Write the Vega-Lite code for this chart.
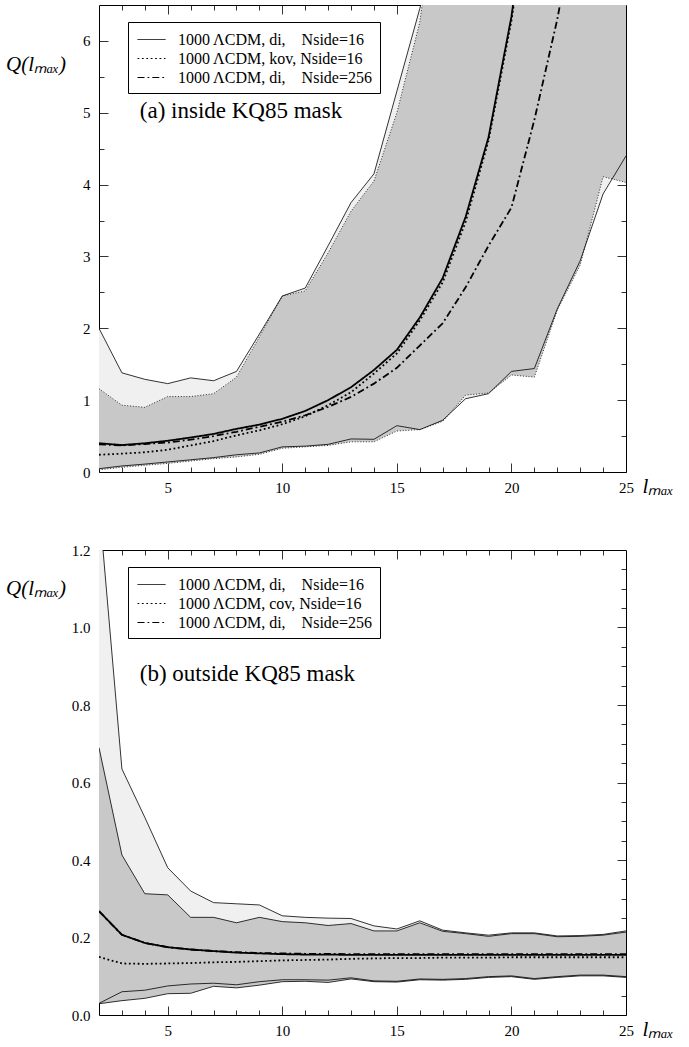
{
  "$schema": "https://vega.github.io/schema/vega-lite/v6.json",
  "background": "white",
  "padding": {"left": 5, "top": 4, "right": 0, "bottom": 0},
  "config": {
    "font": "Liberation Serif",
    "view": {"stroke": null},
    "text": {"font": "Liberation Serif"},
    "axis": {"zindex": 1, "grid": false, "tickColor": "#000", "domainColor": "#000", "labelColor": "#000", "titleColor": "#000", "labelFont": "Liberation Serif", "labelFontSize": 15, "titleFont": "Liberation Serif", "tickWidth": 0.8, "domainWidth": 1, "labelOverlap": false, "labelFlush": false, "labelBound": false},
    "legend": {"orient": "none", "legendX": 29, "legendY": 17, "strokeColor": "#000", "fillColor": "white", "padding": 7, "symbolType": "M-1.4,0H1.4", "symbolSize": 400, "symbolStrokeWidth": 1, "symbolStrokeColor": "#000", "symbolFillColor": "transparent", "symbolOffset": 6, "labelFont": "Liberation Serif", "labelFontSize": 16, "labelColor": "#000", "labelOffset": 16, "labelLimit": 400, "rowPadding": 0}
  },
  "datasets": {
    "a_bands": [
      {"l": 2, "di_lo": 0.046, "di_hi": 2.0, "kov_lo": 0.03, "kov_hi": 1.16},
      {"l": 3, "di_lo": 0.084, "di_hi": 1.38, "kov_lo": 0.065, "kov_hi": 0.93},
      {"l": 4, "di_lo": 0.11, "di_hi": 1.29, "kov_lo": 0.093, "kov_hi": 0.9},
      {"l": 5, "di_lo": 0.14, "di_hi": 1.23, "kov_lo": 0.12, "kov_hi": 1.05},
      {"l": 6, "di_lo": 0.17, "di_hi": 1.31, "kov_lo": 0.153, "kov_hi": 1.05},
      {"l": 7, "di_lo": 0.2, "di_hi": 1.27, "kov_lo": 0.186, "kov_hi": 1.09},
      {"l": 8, "di_lo": 0.24, "di_hi": 1.4, "kov_lo": 0.21, "kov_hi": 1.32},
      {"l": 9, "di_lo": 0.265, "di_hi": 1.92, "kov_lo": 0.246, "kov_hi": 1.88},
      {"l": 10, "di_lo": 0.35, "di_hi": 2.45, "kov_lo": 0.33, "kov_hi": 2.45},
      {"l": 11, "di_lo": 0.36, "di_hi": 2.56, "kov_lo": 0.35, "kov_hi": 2.52},
      {"l": 12, "di_lo": 0.385, "di_hi": 3.15, "kov_lo": 0.37, "kov_hi": 3.05},
      {"l": 13, "di_lo": 0.46, "di_hi": 3.75, "kov_lo": 0.42, "kov_hi": 3.63},
      {"l": 14, "di_lo": 0.455, "di_hi": 4.15, "kov_lo": 0.42, "kov_hi": 4.05},
      {"l": 15, "di_lo": 0.645, "di_hi": 5.3, "kov_lo": 0.57, "kov_hi": 5.0},
      {"l": 16, "di_lo": 0.59, "di_hi": 6.45, "kov_lo": 0.59, "kov_hi": 6.26},
      {"l": 17, "di_lo": 0.72, "di_hi": 7.8, "kov_lo": 0.705, "kov_hi": 8.6},
      {"l": 18, "di_lo": 1.02, "di_hi": 9.5, "kov_lo": 1.07, "kov_hi": 10.5},
      {"l": 19, "di_lo": 1.09, "di_hi": 11.0, "kov_lo": 1.1, "kov_hi": 12.0},
      {"l": 20, "di_lo": 1.4, "di_hi": 12.5, "kov_lo": 1.35, "kov_hi": 13.5},
      {"l": 21, "di_lo": 1.44, "di_hi": 14.0, "kov_lo": 1.32, "kov_hi": 15.0},
      {"l": 22, "di_lo": 2.27, "di_hi": 15.5, "kov_lo": 2.25, "kov_hi": 16.5},
      {"l": 23, "di_lo": 2.94, "di_hi": 17.0, "kov_lo": 2.88, "kov_hi": 18.0},
      {"l": 24, "di_lo": 3.87, "di_hi": 18.5, "kov_lo": 4.11, "kov_hi": 19.5},
      {"l": 25, "di_lo": 4.4, "di_hi": 20.0, "kov_lo": 4.03, "kov_hi": 21.0}
    ],
    "a_med": [
      {"l": 2, "s": "di16", "q": 0.4}, {"l": 3, "s": "di16", "q": 0.375}, {"l": 4, "s": "di16", "q": 0.4}, {"l": 5, "s": "di16", "q": 0.435},
      {"l": 6, "s": "di16", "q": 0.48}, {"l": 7, "s": "di16", "q": 0.53}, {"l": 8, "s": "di16", "q": 0.6}, {"l": 9, "s": "di16", "q": 0.66},
      {"l": 10, "s": "di16", "q": 0.74}, {"l": 11, "s": "di16", "q": 0.85}, {"l": 12, "s": "di16", "q": 1.0}, {"l": 13, "s": "di16", "q": 1.18},
      {"l": 14, "s": "di16", "q": 1.42}, {"l": 15, "s": "di16", "q": 1.7}, {"l": 16, "s": "di16", "q": 2.15}, {"l": 17, "s": "di16", "q": 2.7},
      {"l": 18, "s": "di16", "q": 3.55}, {"l": 19, "s": "di16", "q": 4.66}, {"l": 20, "s": "di16", "q": 6.34}, {"l": 21, "s": "di16", "q": 8.6},
      {"l": 2, "s": "kov16", "q": 0.24}, {"l": 3, "s": "kov16", "q": 0.255}, {"l": 4, "s": "kov16", "q": 0.275}, {"l": 5, "s": "kov16", "q": 0.31},
      {"l": 6, "s": "kov16", "q": 0.37}, {"l": 7, "s": "kov16", "q": 0.43}, {"l": 8, "s": "kov16", "q": 0.51}, {"l": 9, "s": "kov16", "q": 0.58},
      {"l": 10, "s": "kov16", "q": 0.665}, {"l": 11, "s": "kov16", "q": 0.775}, {"l": 12, "s": "kov16", "q": 0.93}, {"l": 13, "s": "kov16", "q": 1.11},
      {"l": 14, "s": "kov16", "q": 1.37}, {"l": 15, "s": "kov16", "q": 1.65}, {"l": 16, "s": "kov16", "q": 2.11}, {"l": 17, "s": "kov16", "q": 2.64},
      {"l": 18, "s": "kov16", "q": 3.48}, {"l": 19, "s": "kov16", "q": 4.61}, {"l": 20, "s": "kov16", "q": 6.28}, {"l": 21, "s": "kov16", "q": 8.5},
      {"l": 2, "s": "di256", "q": 0.385}, {"l": 3, "s": "di256", "q": 0.37}, {"l": 4, "s": "di256", "q": 0.39}, {"l": 5, "s": "di256", "q": 0.41},
      {"l": 6, "s": "di256", "q": 0.45}, {"l": 7, "s": "di256", "q": 0.5}, {"l": 8, "s": "di256", "q": 0.56}, {"l": 9, "s": "di256", "q": 0.63},
      {"l": 10, "s": "di256", "q": 0.7}, {"l": 11, "s": "di256", "q": 0.79}, {"l": 12, "s": "di256", "q": 0.905}, {"l": 13, "s": "di256", "q": 1.045},
      {"l": 14, "s": "di256", "q": 1.23}, {"l": 15, "s": "di256", "q": 1.45}, {"l": 16, "s": "di256", "q": 1.76}, {"l": 17, "s": "di256", "q": 2.07},
      {"l": 18, "s": "di256", "q": 2.57}, {"l": 19, "s": "di256", "q": 3.15}, {"l": 20, "s": "di256", "q": 3.68}, {"l": 21, "s": "di256", "q": 4.9},
      {"l": 22, "s": "di256", "q": 6.3}, {"l": 23, "s": "di256", "q": 8.0}
    ],
    "b_bands": [
      {"l": 2, "di_lo": 0.03, "di_hi": 1.32, "cov_lo": 0.029, "cov_hi": 0.69},
      {"l": 3, "di_lo": 0.06, "di_hi": 0.635, "cov_lo": 0.037, "cov_hi": 0.413},
      {"l": 4, "di_lo": 0.064, "di_hi": 0.51, "cov_lo": 0.043, "cov_hi": 0.313},
      {"l": 5, "di_lo": 0.075, "di_hi": 0.38, "cov_lo": 0.055, "cov_hi": 0.31},
      {"l": 6, "di_lo": 0.08, "di_hi": 0.32, "cov_lo": 0.056, "cov_hi": 0.252},
      {"l": 7, "di_lo": 0.082, "di_hi": 0.29, "cov_lo": 0.074, "cov_hi": 0.252},
      {"l": 8, "di_lo": 0.078, "di_hi": 0.287, "cov_lo": 0.07, "cov_hi": 0.238},
      {"l": 9, "di_lo": 0.086, "di_hi": 0.284, "cov_lo": 0.077, "cov_hi": 0.252},
      {"l": 10, "di_lo": 0.091, "di_hi": 0.256, "cov_lo": 0.086, "cov_hi": 0.241},
      {"l": 11, "di_lo": 0.091, "di_hi": 0.252, "cov_lo": 0.087, "cov_hi": 0.238},
      {"l": 12, "di_lo": 0.09, "di_hi": 0.25, "cov_lo": 0.084, "cov_hi": 0.231},
      {"l": 13, "di_lo": 0.096, "di_hi": 0.249, "cov_lo": 0.093, "cov_hi": 0.236},
      {"l": 14, "di_lo": 0.088, "di_hi": 0.23, "cov_lo": 0.086, "cov_hi": 0.217},
      {"l": 15, "di_lo": 0.087, "di_hi": 0.222, "cov_lo": 0.085, "cov_hi": 0.217},
      {"l": 16, "di_lo": 0.093, "di_hi": 0.243, "cov_lo": 0.091, "cov_hi": 0.238},
      {"l": 17, "di_lo": 0.092, "di_hi": 0.219, "cov_lo": 0.09, "cov_hi": 0.216},
      {"l": 18, "di_lo": 0.094, "di_hi": 0.212, "cov_lo": 0.092, "cov_hi": 0.21},
      {"l": 19, "di_lo": 0.099, "di_hi": 0.206, "cov_lo": 0.097, "cov_hi": 0.203},
      {"l": 20, "di_lo": 0.101, "di_hi": 0.212, "cov_lo": 0.099, "cov_hi": 0.21},
      {"l": 21, "di_lo": 0.094, "di_hi": 0.212, "cov_lo": 0.092, "cov_hi": 0.21},
      {"l": 22, "di_lo": 0.099, "di_hi": 0.204, "cov_lo": 0.097, "cov_hi": 0.202},
      {"l": 23, "di_lo": 0.103, "di_hi": 0.205, "cov_lo": 0.101, "cov_hi": 0.203},
      {"l": 24, "di_lo": 0.103, "di_hi": 0.208, "cov_lo": 0.101, "cov_hi": 0.206},
      {"l": 25, "di_lo": 0.099, "di_hi": 0.217, "cov_lo": 0.097, "cov_hi": 0.214}
    ],
    "b_med": [
      {"l": 2, "s": "di16", "q": 0.268}, {"l": 3, "s": "di16", "q": 0.207}, {"l": 4, "s": "di16", "q": 0.186}, {"l": 5, "s": "di16", "q": 0.175},
      {"l": 6, "s": "di16", "q": 0.169}, {"l": 7, "s": "di16", "q": 0.165}, {"l": 8, "s": "di16", "q": 0.161}, {"l": 9, "s": "di16", "q": 0.159},
      {"l": 10, "s": "di16", "q": 0.157}, {"l": 11, "s": "di16", "q": 0.156}, {"l": 12, "s": "di16", "q": 0.156}, {"l": 13, "s": "di16", "q": 0.155},
      {"l": 14, "s": "di16", "q": 0.155}, {"l": 15, "s": "di16", "q": 0.155}, {"l": 16, "s": "di16", "q": 0.155}, {"l": 17, "s": "di16", "q": 0.155},
      {"l": 18, "s": "di16", "q": 0.155}, {"l": 19, "s": "di16", "q": 0.155}, {"l": 20, "s": "di16", "q": 0.155}, {"l": 21, "s": "di16", "q": 0.155},
      {"l": 22, "s": "di16", "q": 0.155}, {"l": 23, "s": "di16", "q": 0.155}, {"l": 24, "s": "di16", "q": 0.155}, {"l": 25, "s": "di16", "q": 0.155},
      {"l": 2, "s": "cov16", "q": 0.15}, {"l": 3, "s": "cov16", "q": 0.133}, {"l": 4, "s": "cov16", "q": 0.132}, {"l": 5, "s": "cov16", "q": 0.133},
      {"l": 6, "s": "cov16", "q": 0.134}, {"l": 7, "s": "cov16", "q": 0.136}, {"l": 8, "s": "cov16", "q": 0.137}, {"l": 9, "s": "cov16", "q": 0.139},
      {"l": 10, "s": "cov16", "q": 0.141}, {"l": 11, "s": "cov16", "q": 0.142}, {"l": 12, "s": "cov16", "q": 0.143}, {"l": 13, "s": "cov16", "q": 0.145},
      {"l": 14, "s": "cov16", "q": 0.146}, {"l": 15, "s": "cov16", "q": 0.147}, {"l": 16, "s": "cov16", "q": 0.147}, {"l": 17, "s": "cov16", "q": 0.148},
      {"l": 18, "s": "cov16", "q": 0.148}, {"l": 19, "s": "cov16", "q": 0.148}, {"l": 20, "s": "cov16", "q": 0.149}, {"l": 21, "s": "cov16", "q": 0.149},
      {"l": 22, "s": "cov16", "q": 0.149}, {"l": 23, "s": "cov16", "q": 0.149}, {"l": 24, "s": "cov16", "q": 0.149}, {"l": 25, "s": "cov16", "q": 0.149},
      {"l": 2, "s": "di256", "q": 0.268}, {"l": 3, "s": "di256", "q": 0.207}, {"l": 4, "s": "di256", "q": 0.186}, {"l": 5, "s": "di256", "q": 0.175},
      {"l": 6, "s": "di256", "q": 0.169}, {"l": 7, "s": "di256", "q": 0.165}, {"l": 8, "s": "di256", "q": 0.162}, {"l": 9, "s": "di256", "q": 0.16},
      {"l": 10, "s": "di256", "q": 0.159}, {"l": 11, "s": "di256", "q": 0.158}, {"l": 12, "s": "di256", "q": 0.158}, {"l": 13, "s": "di256", "q": 0.157},
      {"l": 14, "s": "di256", "q": 0.157}, {"l": 15, "s": "di256", "q": 0.157}, {"l": 16, "s": "di256", "q": 0.157}, {"l": 17, "s": "di256", "q": 0.157},
      {"l": 18, "s": "di256", "q": 0.157}, {"l": 19, "s": "di256", "q": 0.157}, {"l": 20, "s": "di256", "q": 0.157}, {"l": 21, "s": "di256", "q": 0.157},
      {"l": 22, "s": "di256", "q": 0.157}, {"l": 23, "s": "di256", "q": 0.157}, {"l": 24, "s": "di256", "q": 0.157}, {"l": 25, "s": "di256", "q": 0.157}
    ]
  },
  "spacing": 78,
  "bounds": "flush",
  "resolve": {"scale": {"strokeDash": "independent"}, "legend": {"strokeDash": "independent"}},
  "vconcat": [
    {
      "width": 527,
      "height": 467,
      "resolve": {"axis": {"x": "independent", "y": "independent"}},
      "layer": [
        {
          "data": {"name": "a_bands"},
          "mark": {"type": "area", "color": "#f0f0f0", "clip": true},
          "encoding": {
            "x": {"field": "l", "type": "quantitative", "scale": {"domain": [2, 25], "nice": false, "zero": false},
              "axis": {"orient": "bottom", "values": [5, 10, 15, 20, 25], "labels": true, "labelFont": "Liberation Serif", "labelPadding": 8, "ticks": false, "domain": true,
                "title": "lₘₐₓ", "titleFont": "Liberation Serif", "titleFontStyle": "italic", "titleFontWeight": "normal", "titleFontSize": 21, "titleAngle": 0, "titleAlign": "left", "titleBaseline": "middle", "titleX": 543, "titleY": 14}},
            "y": {"field": "di_lo", "type": "quantitative", "scale": {"domain": [0, 6.5], "nice": false, "zero": false},
              "axis": {"orient": "left", "values": [0, 1, 2, 3, 4, 5, 6], "labels": true, "labelFont": "Liberation Serif", "labelPadding": 9, "ticks": false, "domain": true, "title": null}},
            "y2": {"field": "di_hi"}
          }
        },
        {
          "data": {"name": "a_bands"},
          "mark": {"type": "area", "color": "#c8c8c8", "clip": true},
          "encoding": {
            "x": {"field": "l", "type": "quantitative", "axis": {"orient": "bottom", "values": [5, 10, 15, 20, 25], "labels": false, "ticks": true, "tickSize": -9, "domain": false, "title": null}},
            "y": {"field": "kov_lo", "type": "quantitative", "axis": {"orient": "left", "values": [0, 1, 2, 3, 4, 5, 6], "labels": false, "ticks": true, "tickSize": -9, "domain": false, "title": null}},
            "y2": {"field": "kov_hi"}
          }
        },
        {
          "data": {"name": "a_bands"},
          "mark": {"type": "line", "color": "#000", "strokeWidth": 0.8, "clip": true},
          "encoding": {
            "x": {"field": "l", "type": "quantitative", "axis": {"orient": "bottom", "values": [3, 4, 6, 7, 8, 9, 11, 12, 13, 14, 16, 17, 18, 19, 21, 22, 23, 24], "labels": false, "ticks": true, "tickSize": -5, "domain": false, "title": null}},
            "y": {"field": "di_lo", "type": "quantitative", "axis": {"orient": "left", "values": [0.5, 1.5, 2.5, 3.5, 4.5, 5.5], "labels": false, "ticks": true, "tickSize": -5, "domain": false, "title": null}}
          }
        },
        {
          "data": {"name": "a_bands"},
          "mark": {"type": "line", "color": "#000", "strokeWidth": 0.8, "clip": true},
          "encoding": {
            "x": {"field": "l", "type": "quantitative", "axis": {"orient": "top", "values": [5, 10, 15, 20], "labels": false, "ticks": true, "tickSize": -9, "domain": true, "title": null}},
            "y": {"field": "di_hi", "type": "quantitative", "axis": {"orient": "right", "values": [1, 2, 3, 4, 5, 6], "labels": false, "ticks": true, "tickSize": -9, "domain": true, "title": null}}
          }
        },
        {
          "data": {"name": "a_bands"},
          "mark": {"type": "line", "color": "#000", "strokeWidth": 0.8, "strokeDash": [1, 1.8], "clip": true},
          "encoding": {
            "x": {"field": "l", "type": "quantitative", "axis": {"orient": "top", "values": [3, 4, 6, 7, 8, 9, 11, 12, 13, 14, 16, 17, 18, 19, 21, 22, 23, 24], "labels": false, "ticks": true, "tickSize": -5, "domain": false, "title": null}},
            "y": {"field": "kov_lo", "type": "quantitative", "axis": {"orient": "right", "values": [0.5, 1.5, 2.5, 3.5, 4.5, 5.5], "labels": false, "ticks": true, "tickSize": -5, "domain": false, "title": null}}
          }
        },
        {
          "data": {"name": "a_bands"},
          "mark": {"type": "line", "color": "#000", "strokeWidth": 0.8, "strokeDash": [1, 1.8], "clip": true},
          "encoding": {
            "x": {"field": "l", "type": "quantitative", "axis": null},
            "y": {"field": "kov_hi", "type": "quantitative", "axis": null}
          }
        },
        {
          "data": {"name": "a_med"},
          "mark": {"type": "line", "color": "#000", "strokeWidth": 1.8, "clip": true},
          "encoding": {
            "x": {"field": "l", "type": "quantitative", "axis": null},
            "y": {"field": "q", "type": "quantitative", "axis": null},
            "detail": {"field": "s"},
            "strokeDash": {"field": "s", "type": "nominal",
              "scale": {"domain": ["di16", "kov16", "di256"], "range": [[1, 0], [1.8, 2.6], [7, 3, 1.8, 3]]},
              "legend": {"title": null,
                "labelExpr": "datum.label == 'di16' ? '1000 ΛCDM, di,\u00a0\u00a0\u00a0 Nside=16' : datum.label == 'kov16' ? '1000 ΛCDM, kov, Nside=16' : '1000 ΛCDM, di,\u00a0\u00a0\u00a0 Nside=256'"}}
          }
        },
        {
          "data": {"values": [{"label": "(a) inside KQ85 mask"}]},
          "mark": {"type": "text", "align": "left", "baseline": "middle", "font": "Liberation Serif", "fontSize": 23, "color": "#000"},
          "encoding": {
            "x": {"datum": 3.78, "type": "quantitative", "axis": null},
            "y": {"datum": 5.02, "type": "quantitative", "axis": null},
            "text": {"field": "label"}
          }
        },
        {
          "data": {"values": [{"label": "Q(lₘₐₓ)"}]},
          "mark": {"type": "text", "align": "left", "baseline": "middle", "font": "Liberation Serif", "fontStyle": "italic", "fontSize": 21, "color": "#000", "clip": false},
          "encoding": {
            "x": {"datum": -2.06, "type": "quantitative", "axis": null},
            "y": {"datum": 5.665, "type": "quantitative", "axis": null},
            "text": {"field": "label"}
          }
        }
      ]
    },
    {
      "width": 527,
      "height": 465,
      "resolve": {"axis": {"x": "independent", "y": "independent"}},
      "layer": [
        {
          "data": {"name": "b_bands"},
          "mark": {"type": "area", "color": "#f0f0f0", "clip": true},
          "encoding": {
            "x": {"field": "l", "type": "quantitative", "scale": {"domain": [2, 25], "nice": false, "zero": false},
              "axis": {"orient": "bottom", "values": [5, 10, 15, 20, 25], "labels": true, "labelFont": "Liberation Serif", "labelPadding": 8, "ticks": false, "domain": true,
                "title": "lₘₐₓ", "titleFont": "Liberation Serif", "titleFontStyle": "italic", "titleFontWeight": "normal", "titleFontSize": 21, "titleAngle": 0, "titleAlign": "left", "titleBaseline": "middle", "titleX": 543, "titleY": 14}},
            "y": {"field": "di_lo", "type": "quantitative", "scale": {"domain": [0, 1.2], "nice": false, "zero": false},
              "axis": {"orient": "left", "values": [0, 0.2, 0.4, 0.6, 0.8, 1.0, 1.2], "format": ".1f", "labels": true, "labelFont": "Liberation Serif", "labelPadding": 9, "ticks": false, "domain": true, "title": null}},
            "y2": {"field": "di_hi"}
          }
        },
        {
          "data": {"name": "b_bands"},
          "mark": {"type": "area", "color": "#c8c8c8", "clip": true},
          "encoding": {
            "x": {"field": "l", "type": "quantitative", "axis": {"orient": "bottom", "values": [5, 10, 15, 20, 25], "labels": false, "ticks": true, "tickSize": -9, "domain": false, "title": null}},
            "y": {"field": "cov_lo", "type": "quantitative", "axis": {"orient": "left", "values": [0.2, 0.4, 0.6, 0.8, 1.0], "labels": false, "ticks": true, "tickSize": -9, "domain": false, "title": null}},
            "y2": {"field": "cov_hi"}
          }
        },
        {
          "data": {"name": "b_bands"},
          "mark": {"type": "line", "color": "#000", "strokeWidth": 0.8, "clip": true},
          "encoding": {
            "x": {"field": "l", "type": "quantitative", "axis": {"orient": "bottom", "values": [3, 4, 6, 7, 8, 9, 11, 12, 13, 14, 16, 17, 18, 19, 21, 22, 23, 24], "labels": false, "ticks": true, "tickSize": -5, "domain": false, "title": null}},
            "y": {"field": "di_lo", "type": "quantitative", "axis": {"orient": "left", "values": [0.05, 0.1, 0.15, 0.25, 0.3, 0.35, 0.45, 0.5, 0.55, 0.65, 0.7, 0.75, 0.85, 0.9, 0.95, 1.05, 1.1, 1.15], "labels": false, "ticks": true, "tickSize": -5, "domain": false, "title": null}}
          }
        },
        {
          "data": {"name": "b_bands"},
          "mark": {"type": "line", "color": "#000", "strokeWidth": 0.8, "clip": true},
          "encoding": {
            "x": {"field": "l", "type": "quantitative", "axis": {"orient": "top", "values": [5, 10, 15, 20], "labels": false, "ticks": true, "tickSize": -9, "domain": true, "title": null}},
            "y": {"field": "di_hi", "type": "quantitative", "axis": {"orient": "right", "values": [0.2, 0.4, 0.6, 0.8, 1.0], "labels": false, "ticks": true, "tickSize": -9, "domain": true, "title": null}}
          }
        },
        {
          "data": {"name": "b_bands"},
          "mark": {"type": "line", "color": "#000", "strokeWidth": 0.8, "clip": true},
          "encoding": {
            "x": {"field": "l", "type": "quantitative", "axis": {"orient": "top", "values": [3, 4, 6, 7, 8, 9, 11, 12, 13, 14, 16, 17, 18, 19, 21, 22, 23, 24], "labels": false, "ticks": true, "tickSize": -5, "domain": false, "title": null}},
            "y": {"field": "cov_lo", "type": "quantitative", "axis": {"orient": "right", "values": [0.05, 0.1, 0.15, 0.25, 0.3, 0.35, 0.45, 0.5, 0.55, 0.65, 0.7, 0.75, 0.85, 0.9, 0.95, 1.05, 1.1, 1.15], "labels": false, "ticks": true, "tickSize": -5, "domain": false, "title": null}}
          }
        },
        {
          "data": {"name": "b_bands"},
          "mark": {"type": "line", "color": "#000", "strokeWidth": 0.8, "clip": true},
          "encoding": {
            "x": {"field": "l", "type": "quantitative", "axis": null},
            "y": {"field": "cov_hi", "type": "quantitative", "axis": null}
          }
        },
        {
          "data": {"name": "b_med"},
          "mark": {"type": "line", "color": "#000", "strokeWidth": 1.8, "clip": true},
          "encoding": {
            "x": {"field": "l", "type": "quantitative", "axis": null},
            "y": {"field": "q", "type": "quantitative", "axis": null},
            "detail": {"field": "s"},
            "strokeDash": {"field": "s", "type": "nominal",
              "scale": {"domain": ["di16", "cov16", "di256"], "range": [[1, 0], [1.8, 2.6], [7, 3, 1.8, 3]]},
              "legend": {"title": null,
                "labelExpr": "datum.label == 'di16' ? '1000 ΛCDM, di,\u00a0\u00a0\u00a0 Nside=16' : datum.label == 'cov16' ? '1000 ΛCDM, cov, Nside=16' : '1000 ΛCDM, di,\u00a0\u00a0\u00a0 Nside=256'"}}
          }
        },
        {
          "data": {"values": [{"label": "(b) outside KQ85 mask"}]},
          "mark": {"type": "text", "align": "left", "baseline": "middle", "font": "Liberation Serif", "fontSize": 23, "color": "#000"},
          "encoding": {
            "x": {"datum": 3.78, "type": "quantitative", "axis": null},
            "y": {"datum": 0.88, "type": "quantitative", "axis": null},
            "text": {"field": "label"}
          }
        },
        {
          "data": {"values": [{"label": "Q(lₘₐₓ)"}]},
          "mark": {"type": "text", "align": "left", "baseline": "middle", "font": "Liberation Serif", "fontStyle": "italic", "fontSize": 21, "color": "#000", "clip": false},
          "encoding": {
            "x": {"datum": -2.06, "type": "quantitative", "axis": null},
            "y": {"datum": 1.099, "type": "quantitative", "axis": null},
            "text": {"field": "label"}
          }
        }
      ]
    }
  ]
}
